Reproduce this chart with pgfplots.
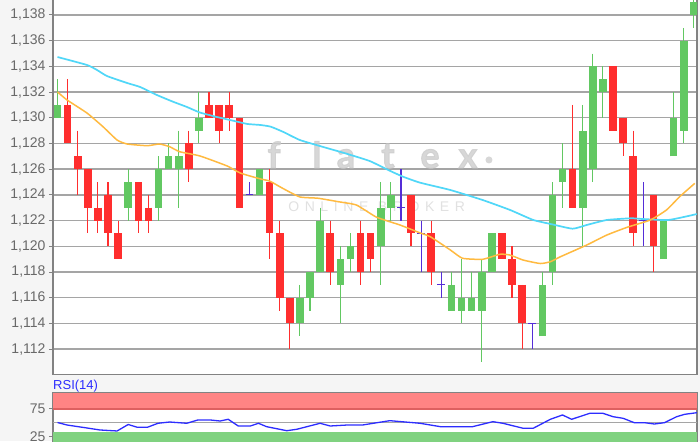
\documentclass[border=0pt]{standalone}
\usepackage{pgfplots}
\pgfplotsset{compat=1.18}
\usepackage{fontspec}
\setmainfont{Liberation Sans}
\newfontfamily\wmfont[FakeBold=2.5]{Lato}
\newfontfamily\wmsub[LetterSpace=40]{Liberation Sans}
\definecolor{cgreen}{RGB}{98,200,98}
\definecolor{cred}{RGB}{255,46,46}
\definecolor{cblue}{RGB}{85,45,215}
\definecolor{ccyan}{RGB}{80,215,248}
\definecolor{corange}{RGB}{255,186,64}
\definecolor{gridc}{RGB}{165,165,165}
\definecolor{framec}{RGB}{130,130,130}
\definecolor{labc}{RGB}{105,105,105}
\definecolor{bgc}{RGB}{245,245,245}
\definecolor{wmc}{RGB}{205,205,205}
\definecolor{rsiblue}{RGB}{45,45,255}
\definecolor{bandred}{RGB}{255,132,132}
\definecolor{bandredd}{RGB}{222,96,96}
\definecolor{bandgreen}{RGB}{128,210,128}

\pgfplotsset{
  chartbase/.style={
    anchor=south west, scale only axis, width=644pt,
    xmin=0.5545, xmax=64.317,
    axis background/.style={fill=white},
    xtick=\empty, ytick pos=left,
    tick align=outside, major tick length=4pt,
    tick style={framec, line width=1pt},
    axis line style={framec, line width=1.5pt},
    ymajorgrids, major grid style={gridc, line width=1.4pt},
    scaled y ticks=false,
    yticklabel style={font=\fontsize{14}{16}\selectfont, text=labc},
    unbounded coords=jump,
  }
}
\tikzset{wmletter/.style={anchor=base, font=\wmfont\bfseries\fontsize{36}{36}\selectfont, text=wmc, text opacity=0.8}}

\begin{document}
\begin{tikzpicture}[x=1pt,y=1pt]
\useasboundingbox (0,0) rectangle (700,441);
\clip (0,0) rectangle (700,441);
\fill[bgc] (0,0) rectangle (700,441);

% ---------------- main price panel ----------------
\begin{axis}[chartbase,
  at={(53pt,66.7pt)}, height=377.3pt,
  ymin=1.110039, ymax=1.139401,
  ytick={1.112,1.114,1.116,1.118,1.120,1.122,1.124,1.126,1.128,1.130,1.132,1.134,1.136,1.138},
  yticklabel style={/pgf/number format/.cd, fixed, fixed zerofill, precision=3, use comma, assume math mode=true},
]
% watermark
\node[wmletter] at (axis cs:22.44,1.126094) {f};
\node[wmletter] at (axis cs:26.69,1.126094) {l};
\node[wmletter] at (axis cs:29.56,1.126094) {a};
\node[wmletter] at (axis cs:33.72,1.126094) {t};
\node[wmletter] at (axis cs:37.88,1.126094) {e};
\node[wmletter] at (axis cs:41.64,1.126094) {x};
\node[circle, fill=wmc, fill opacity=0.8, inner sep=0pt, minimum size=7pt] at (axis cs:43.72,1.12672) {};
\node[anchor=base, font=\wmsub\fontsize{14}{14}\selectfont, text=wmc, text opacity=0.6] at (axis cs:32.6,1.122693) {ONLINE BROKER};

% green wicks
\addplot[cgreen, line width=1.1pt] coordinates {
(1,1.133)(1,1.130)(1,nan)
(8,1.126)(8,1.122)(8,nan)
(11,1.127)(11,1.122)(11,nan)
(12,1.128)(12,1.126)(12,nan)
(13,1.129)(13,1.123)(13,nan)
(15,1.132)(15,1.128)(15,nan)
(21,1.126)(21,1.124)(21,nan)
(25,1.117)(25,1.113)(25,nan)
(26,1.118)(26,1.115)(26,nan)
(27,1.123)(27,1.118)(27,nan)
(29,1.120)(29,1.114)(29,nan)
(30,1.121)(30,1.118)(30,nan)
(33,1.125)(33,1.117)(33,nan)
(34,1.125)(34,1.122)(34,nan)
(40,1.118)(40,1.115)(40,nan)
(41,1.119)(41,1.114)(41,nan)
(42,1.118)(42,1.115)(42,nan)
(43,1.119)(43,1.111)(43,nan)
(44,1.121)(44,1.118)(44,nan)
(49,1.118)(49,1.113)(49,nan)
(50,1.125)(50,1.117)(50,nan)
(51,1.128)(51,1.123)(51,nan)
(53,1.131)(53,1.120)(53,nan)
(54,1.135)(54,1.125)(54,nan)
(55,1.134)(55,1.130)(55,nan)
(61,1.122)(61,1.119)(61,nan)
(62,1.132)(62,1.127)(62,nan)
(63,1.137)(63,1.128)(63,nan)
(64,1.140)(64,1.137)
};
% green bodies
\addplot[cgreen, line width=7.6pt] coordinates {
(1,1.130)(1,1.131)(1,nan)
(8,1.123)(8,1.125)(8,nan)
(11,1.123)(11,1.126)(11,nan)
(12,1.126)(12,1.127)(12,nan)
(13,1.126)(13,1.127)(13,nan)
(15,1.129)(15,1.130)(15,nan)
(21,1.124)(21,1.126)(21,nan)
(25,1.114)(25,1.116)(25,nan)
(26,1.116)(26,1.118)(26,nan)
(27,1.118)(27,1.122)(27,nan)
(29,1.117)(29,1.119)(29,nan)
(30,1.119)(30,1.120)(30,nan)
(33,1.120)(33,1.123)(33,nan)
(34,1.123)(34,1.124)(34,nan)
(40,1.115)(40,1.117)(40,nan)
(41,1.115)(41,1.116)(41,nan)
(42,1.115)(42,1.116)(42,nan)
(43,1.115)(43,1.118)(43,nan)
(44,1.118)(44,1.121)(44,nan)
(49,1.113)(49,1.117)(49,nan)
(50,1.118)(50,1.124)(50,nan)
(51,1.125)(51,1.126)(51,nan)
(53,1.123)(53,1.129)(53,nan)
(54,1.126)(54,1.134)(54,nan)
(55,1.132)(55,1.133)(55,nan)
(61,1.119)(61,1.122)(61,nan)
(62,1.127)(62,1.130)(62,nan)
(63,1.129)(63,1.136)(63,nan)
(64,1.138)(64,1.139)
};
% red wicks
\addplot[cred, line width=1.1pt] coordinates {
(2,1.133)(2,1.128)(2,nan)
(3,1.129)(3,1.124)(3,nan)
(4,1.126)(4,1.121)(4,nan)
(5,1.125)(5,1.121)(5,nan)
(6,1.125)(6,1.120)(6,nan)
(7,1.122)(7,1.119)(7,nan)
(9,1.125)(9,1.121)(9,nan)
(10,1.124)(10,1.121)(10,nan)
(14,1.129)(14,1.125)(14,nan)
(16,1.132)(16,1.130)(16,nan)
(17,1.131)(17,1.128)(17,nan)
(18,1.132)(18,1.129)(18,nan)
(19,1.130)(19,1.123)(19,nan)
(22,1.126)(22,1.119)(22,nan)
(23,1.122)(23,1.115)(23,nan)
(24,1.116)(24,1.112)(24,nan)
(28,1.122)(28,1.117)(28,nan)
(31,1.122)(31,1.117)(31,nan)
(32,1.121)(32,1.118)(32,nan)
(36,1.124)(36,1.120)(36,nan)
(38,1.122)(38,1.117)(38,nan)
(45,1.121)(45,1.119)(45,nan)
(46,1.120)(46,1.116)(46,nan)
(47,1.117)(47,1.112)(47,nan)
(52,1.131)(52,1.123)(52,nan)
(56,1.134)(56,1.129)(56,nan)
(57,1.130)(57,1.127)(57,nan)
(58,1.129)(58,1.120)(58,nan)
(60,1.124)(60,1.118)
};
% red bodies
\addplot[cred, line width=7.6pt] coordinates {
(2,1.131)(2,1.128)(2,nan)
(3,1.127)(3,1.126)(3,nan)
(4,1.126)(4,1.123)(4,nan)
(5,1.123)(5,1.122)(5,nan)
(6,1.124)(6,1.121)(6,nan)
(7,1.121)(7,1.119)(7,nan)
(9,1.125)(9,1.122)(9,nan)
(10,1.123)(10,1.122)(10,nan)
(14,1.128)(14,1.126)(14,nan)
(16,1.131)(16,1.130)(16,nan)
(17,1.131)(17,1.129)(17,nan)
(18,1.131)(18,1.130)(18,nan)
(19,1.130)(19,1.123)(19,nan)
(22,1.125)(22,1.121)(22,nan)
(23,1.121)(23,1.116)(23,nan)
(24,1.116)(24,1.114)(24,nan)
(28,1.121)(28,1.118)(28,nan)
(31,1.121)(31,1.118)(31,nan)
(32,1.121)(32,1.119)(32,nan)
(36,1.124)(36,1.121)(36,nan)
(38,1.121)(38,1.118)(38,nan)
(45,1.121)(45,1.119)(45,nan)
(46,1.119)(46,1.117)(46,nan)
(47,1.117)(47,1.114)(47,nan)
(52,1.126)(52,1.123)(52,nan)
(56,1.134)(56,1.129)(56,nan)
(57,1.130)(57,1.128)(57,nan)
(58,1.127)(58,1.121)(58,nan)
(60,1.124)(60,1.120)
};
% doji (open = close)
\addplot[cblue, line width=1.2pt] coordinates {
(20,1.125)(20,1.124)(20,nan)(19.62,1.124)(20.38,1.124)(20,nan)
(35,1.126)(35,1.122)(35,nan)(34.62,1.123)(35.38,1.123)(35,nan)
(37,1.122)(37,1.118)(37,nan)(36.62,1.121)(37.38,1.121)(37,nan)
(39,1.118)(39,1.116)(39,nan)(38.62,1.117)(39.38,1.117)(39,nan)
(48,1.114)(48,1.112)(48,nan)(47.62,1.114)(48.38,1.114)(48,nan)
(59,1.125)(59,1.120)(59,nan)(58.62,1.122)(59.38,1.122)
};
% long moving average (cyan)
\addplot[ccyan, line width=1.7pt, smooth, tension=0.3] coordinates {
(1,1.13473)(3.92,1.13411)(4.91,1.13372)(5.9,1.13325)(7.88,1.13271)(9.17,1.13240)
(10.85,1.13177)(12.44,1.13125)(13.82,1.13084)(15.1,1.13041)(16.8,1.13006)(18.4,1.12977)
(19.8,1.12952)(21.1,1.12944)(22.1,1.12931)(23.3,1.12892)(25.0,1.12827)(27.3,1.12773)
(29.3,1.12728)(31.9,1.12664)(33.9,1.12588)(35.2,1.12542)(36.9,1.12495)(39.9,1.12438)
(43.1,1.12360)(45.8,1.12283)(48.1,1.12205)(49.8,1.12174)(52.0,1.12137)(53.4,1.12166)
(55.4,1.12205)(57.8,1.12218)(58.8,1.12213)(61.5,1.12205)(64.3,1.12251)
};
% short moving average (orange)
\addplot[corange, line width=1.5pt, smooth, tension=0.3] coordinates {
(1,1.13201)(1.94,1.13139)(3.92,1.13037)(5.5,1.12931)(6.9,1.12827)(7.9,1.12796)
(9.9,1.12783)(11.1,1.12796)(12.1,1.12775)(13.1,1.12736)(15.1,1.12703)(17.8,1.12625)
(19.1,1.12570)(21.1,1.12524)(22.0,1.12508)(23.3,1.12451)(25.0,1.12384)(26.8,1.12374)
(28.8,1.12347)(30.6,1.12321)(32.6,1.12226)(34.9,1.12166)(36.9,1.12104)(37.9,1.12075)
(39.9,1.11971)(41.1,1.11907)(43.1,1.11899)(44.8,1.11938)(45.8,1.11932)(47.1,1.11893)
(48.8,1.11866)(49.8,1.11880)(50.8,1.11919)(53.4,1.12010)(55.4,1.12088)(57.4,1.12148)
(59.7,1.12205)(61.3,1.12283)(62.6,1.12386)(64.1,1.12490)
};
\end{axis}

% ---------------- RSI panel ----------------
\begin{axis}[chartbase,
  at={(53pt,-4pt)}, height=52.3pt,
  ymin=9.9, ymax=104.3,
  ytick={25,75},
  extra y ticks={50}, extra y tick labels={},
  extra y tick style={major tick length=0pt, grid=major},
  yticklabel style={/pgf/number format/assume math mode=true},
]
\addplot[fill=bandred, draw=none] coordinates {(0.5545,75)(64.317,75)(64.317,104.3)(0.5545,104.3)};
\addplot[bandredd, line width=1.2pt] coordinates {(0.5545,75)(64.317,75)};
\addplot[fill=bandgreen, draw=none] coordinates {(0.5545,9.9)(64.317,9.9)(64.317,33)(0.5545,33)};
\addplot[rsiblue, line width=1.3pt] coordinates {
(1,50.5)(1.94,46.0)(3.92,40.6)(5.2,37.0)(6.9,35.2)(8.0,46.9)(8.9,41.9)(9.9,41.9)
(10.95,49.1)(12.1,51.4)(13.8,49.1)(14.9,55.1)(16.1,55.1)(17.1,53.2)(17.9,56.3)
(18.9,44.2)(20.1,44.2)(20.9,49.1)(21.7,43.0)(23.7,35.7)(24.7,38.3)(27.0,49.1)
(28.0,44.2)(29.7,46.0)(31.2,46.0)(33.9,53.8)(36.9,49.1)(38.9,43.0)(42.1,43.0)
(44.1,52.0)(45.1,49.1)(47.1,40.1)(48.1,40.1)(49.8,56.3)(51.0,64.1)(51.9,56.3)
(53.7,67.1)(55.0,67.1)(56.0,61.0)(57.0,58.1)(58.1,50.2)(59.1,50.2)(60.1,47.8)
(61.1,50.2)(62.3,61.0)(63.1,65.3)(64.3,68.2)
};
\end{axis}

\node[anchor=base west, inner sep=0pt, text=rsiblue, font=\fontsize{13}{15}\selectfont] at (53,51.5) {RSI(14)};
\end{tikzpicture}
\end{document}
